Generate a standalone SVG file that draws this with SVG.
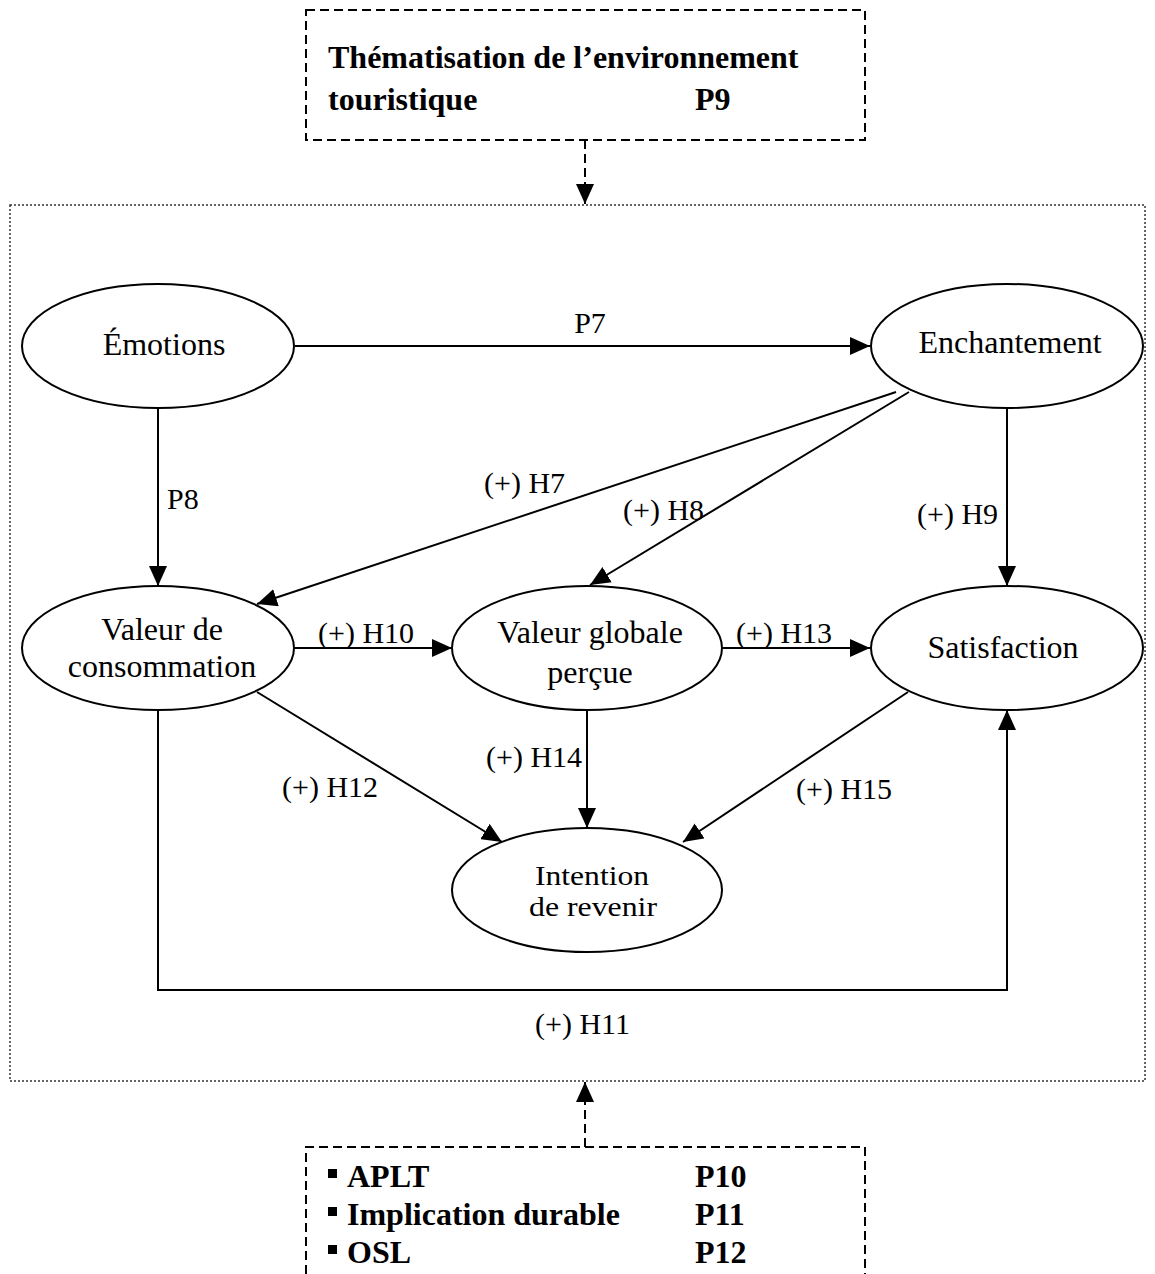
<svg xmlns="http://www.w3.org/2000/svg" width="1155" height="1274" viewBox="0 0 1155 1274">
<style>
.n{fill:#fff;stroke:#000;stroke-width:2}
.t{font-family:"Liberation Serif","Times New Roman",serif;font-size:30px;fill:#000}
.x{font-family:"Liberation Serif","Times New Roman",serif;font-size:32px;fill:#000;text-anchor:middle}
.c{text-anchor:middle}
.b{font-family:"Liberation Serif","Times New Roman",serif;font-size:32px;font-weight:bold;fill:#000}
.e{fill:none;stroke:#000;stroke-width:2}
.d{fill:none;stroke:#000;stroke-width:2;stroke-dasharray:9,5}
</style>
<defs>
<marker id="ah" markerUnits="userSpaceOnUse" markerWidth="22" markerHeight="18" refX="20" refY="9" orient="auto">
<path d="M0,0 L20,9 L0,18 Z" fill="#000"/>
</marker>
</defs>
<rect x="10" y="205" width="1135" height="876" fill="none" stroke="#333" stroke-width="1.5" stroke-dasharray="2,2"/>
<g id="theme">
<rect class="d" x="306" y="10" width="559" height="130"/>
<text class="b" x="328" y="68">Thématisation de l’environnement</text>
<text class="b" x="328" y="110">touristique</text>
<text class="b" x="695" y="110">P9</text>
</g>
<g id="moderators">
<path class="d" d="M306,1274 V1147 H865 V1274"/>
<rect x="328" y="1169" width="9" height="9" fill="#000"/>
<rect x="328" y="1207" width="9" height="9" fill="#000"/>
<rect x="328" y="1245" width="9" height="9" fill="#000"/>
<text class="b" x="347" y="1187">APLT</text>
<text class="b" x="347" y="1225">Implication durable</text>
<text class="b" x="347" y="1263">OSL</text>
<text class="b" x="695" y="1187">P10</text>
<text class="b" x="695" y="1225">P11</text>
<text class="b" x="695" y="1263">P12</text>
</g>
<g id="connectors">
<line class="d" x1="585" y1="140" x2="585" y2="204" marker-end="url(#ah)"/>
<line class="d" x1="585" y1="1147" x2="585" y2="1082" marker-end="url(#ah)"/>
<line class="e" x1="295" y1="346" x2="870" y2="346" marker-end="url(#ah)"/>
<line class="e" x1="158" y1="408" x2="158" y2="586" marker-end="url(#ah)"/>
<line class="e" x1="896" y1="392" x2="257" y2="604" marker-end="url(#ah)"/>
<line class="e" x1="909" y1="392" x2="590" y2="585" marker-end="url(#ah)"/>
<line class="e" x1="1007" y1="408" x2="1007" y2="586" marker-end="url(#ah)"/>
<line class="e" x1="295" y1="648" x2="452" y2="648" marker-end="url(#ah)"/>
<line class="e" x1="722" y1="648" x2="870" y2="648" marker-end="url(#ah)"/>
<line class="e" x1="587" y1="710" x2="587" y2="828" marker-end="url(#ah)"/>
<line class="e" x1="257" y1="692" x2="502" y2="842" marker-end="url(#ah)"/>
<line class="e" x1="908" y1="692" x2="683" y2="842" marker-end="url(#ah)"/>
<polyline class="e" points="158,710 158,990 1007,990 1007,710" marker-end="url(#ah)"/>
<text class="t c" x="590" y="333">P7</text>
<text class="t" x="167" y="509">P8</text>
<text class="t" x="484" y="493">(+) H7</text>
<text class="t" x="623" y="520">(+) H8</text>
<text class="t" x="917" y="524">(+) H9</text>
<text class="t" x="318" y="643">(+) H10</text>
<text class="t" x="736" y="643">(+) H13</text>
<text class="t" x="486" y="767">(+) H14</text>
<text class="t" x="282" y="797">(+) H12</text>
<text class="t" x="796" y="799">(+) H15</text>
<text class="t" x="535" y="1034">(+) H11</text>
</g>
<g id="emotions">
<ellipse class="n" cx="158" cy="346" rx="136" ry="62"/>
<text class="x" x="164" y="355">Émotions</text>
</g>
<g id="enchantement">
<ellipse class="n" cx="1007" cy="346" rx="136" ry="62"/>
<text class="x" x="1010" y="353">Enchantement</text>
</g>
<g id="valeur-consommation">
<ellipse class="n" cx="158" cy="648" rx="136" ry="62"/>
<text class="x" x="162" y="640">Valeur de</text>
<text class="x" x="162" y="677">consommation</text>
</g>
<g id="valeur-globale">
<ellipse class="n" cx="587" cy="648" rx="135" ry="62"/>
<text class="x" x="590" y="643">Valeur globale</text>
<text class="x" x="590" y="683">perçue</text>
</g>
<g id="satisfaction">
<ellipse class="n" cx="1007" cy="648" rx="136" ry="62"/>
<text class="x" x="1003" y="658">Satisfaction</text>
</g>
<g id="intention">
<ellipse class="n" cx="587" cy="890" rx="135" ry="62"/>
<text class="x" x="592" y="885" style="font-size:28px" textLength="114" lengthAdjust="spacingAndGlyphs">Intention</text>
<text class="x" x="593" y="916" style="font-size:28px" textLength="128" lengthAdjust="spacingAndGlyphs">de revenir</text>
</g>
</svg>
